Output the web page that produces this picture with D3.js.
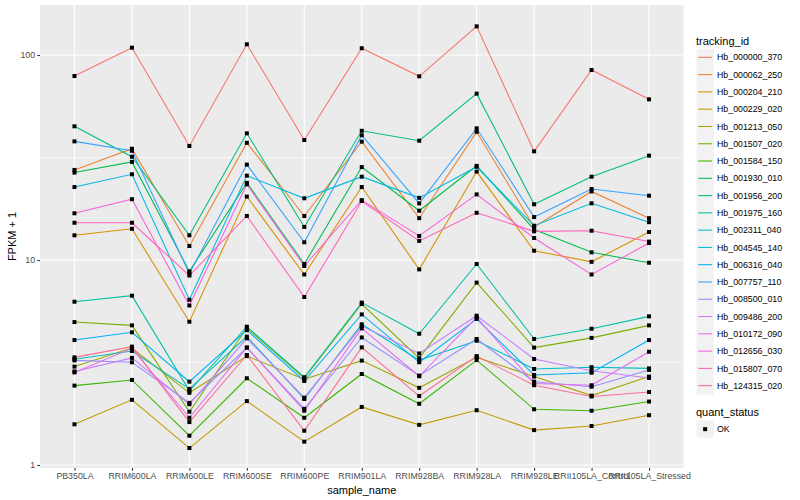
<!DOCTYPE html>
<html><head><meta charset="utf-8">
<script src="https://cdn.jsdelivr.net/npm/d3@7"></script>
<style>body{margin:0;background:#fff}svg{display:block;font-family:"Liberation Sans",Arial,sans-serif}</style>
</head><body><svg id="c" width="800" height="500"></svg>
<script>
const samples = ["PB350LA","RRIM600LA","RRIM600LE","RRIM600SE","RRIM600PE","RRIM901LA","RRIM928BA","RRIM928LA","RRIM928LE","RRII105LA_Control","RRII105LA_Stressed"];
const trackingIds = ["Hb_000000_370","Hb_000062_250","Hb_000204_210","Hb_000229_020","Hb_001213_050","Hb_001507_020","Hb_001584_150","Hb_001930_010","Hb_001956_200","Hb_001975_160","Hb_002311_040","Hb_004545_140","Hb_006316_040","Hb_007757_110","Hb_008500_010","Hb_009486_200","Hb_010172_090","Hb_012656_030","Hb_015807_070","Hb_124315_020"];
const yTicks = [1, 10, 100];

// FPKM + 1 per sample, one array per tracking_id
const hb_000000_370 = [79, 108.6, 36, 112.8, 38.5, 107.9, 78.7, 138, 33.9, 84.5, 60.8];
const hb_000062_250 = [27.5, 34.9, 11.7, 37.3, 16.4, 37.8, 16.0, 42.2, 14.5, 21.6, 16.0];
const hb_000204_210 = [13.2, 14.2, 5.0, 20.4, 8.5, 22.7, 9.0, 27.0, 11.1, 9.8, 13.7];
const hb_000229_020 = [1.58, 2.08, 1.21, 2.05, 1.30, 1.92, 1.57, 1.85, 1.48, 1.55, 1.75];
const hb_001213_050 = [3.02, 3.72, 2.25, 3.40, 2.62, 3.23, 2.38, 3.35, 2.70, 2.18, 2.70];
const hb_001507_020 = [4.98, 4.8, 1.82, 4.66, 2.65, 6.1, 3.32, 7.76, 3.74, 4.17, 4.80];
const hb_001584_150 = [2.44, 2.60, 1.39, 2.65, 1.70, 2.78, 1.99, 3.25, 1.87, 1.84, 2.04];
const hb_001930_010 = [26.7, 30.1, 8.8, 23.8, 9.56, 28.4, 17.4, 28.8, 14.1, 10.9, 9.7];
const hb_001956_200 = [44.9, 31.9, 13.2, 41.5, 14.5, 42.7, 38.2, 64.8, 18.7, 25.5, 32.3];
const hb_001975_160 = [6.26, 6.7, 2.30, 4.73, 2.68, 6.2, 4.37, 9.56, 4.12, 4.62, 5.31];
const hb_002311_040 = [3.28, 3.6, 2.35, 4.23, 2.10, 4.86, 3.25, 4.04, 2.94, 3.0, 2.96];
const hb_004545_140 = [22.7, 26.2, 6.4, 25.8, 20.0, 25.5, 20.1, 28.5, 14.7, 18.9, 15.3];
const hb_006316_040 = [4.07, 4.44, 2.55, 4.55, 2.57, 5.43, 3.17, 5.16, 2.75, 2.82, 4.07];
const hb_007757_110 = [37.9, 34.1, 8.6, 29.2, 12.2, 40.6, 18.9, 43.9, 16.2, 22.2, 20.6];
const hb_008500_010 = [3.24, 3.17, 2.01, 3.74, 1.88, 4.19, 2.73, 4.12, 2.55, 2.41, 2.91];
const hb_009486_200 = [2.86, 3.33, 1.98, 4.15, 2.13, 4.76, 3.50, 5.35, 3.29, 2.88, 2.66];
const hb_010172_090 = [2.83, 3.71, 1.70, 3.74, 1.84, 4.64, 2.71, 5.25, 2.50, 2.45, 3.57];
const hb_012656_030 = [16.9, 19.8, 6.0, 23.4, 9.35, 19.6, 13.1, 20.9, 12.8, 8.5, 12.1];
const hb_015807_070 = [15.2, 15.2, 8.4, 16.4, 6.6, 19.4, 12.4, 17.0, 13.8, 13.9, 12.3];
const hb_124315_020 = [3.35, 3.78, 1.62, 3.44, 1.47, 3.75, 2.17, 3.40, 2.45, 2.16, 2.27];

const seriesValues = [hb_000000_370,hb_000062_250,hb_000204_210,hb_000229_020,hb_001213_050,hb_001507_020,hb_001584_150,hb_001930_010,hb_001956_200,hb_001975_160,hb_002311_040,hb_004545_140,hb_006316_040,hb_007757_110,hb_008500_010,hb_009486_200,hb_010172_090,hb_012656_030,hb_015807_070,hb_124315_020];

const palette = ["#F8766D","#EA8331","#D89000","#C09B00","#A3A500","#7CAE00","#39B600","#00BB4E","#00BF7D","#00C1A3","#00BFC4","#00BAE0","#00B0F6","#35A2FF","#9590FF","#C77CFF","#E76BF3","#FA62DB","#FF62BC","#FF6C91"];

const series = trackingIds.map((id,i)=>({id, values: seriesValues[i].map((v,j)=>({s:samples[j], v}))}));

const svg = d3.select("#c");
const P = {l:40, r:683.5, t:5, b:468};
const x = d3.scalePoint().domain(samples).range([P.l, P.r]).padding(0.6);
const y = d3.scaleLog().domain([0.967, 175.4]).range([P.b, P.t]);
const color = d3.scaleOrdinal().domain(trackingIds).range(palette);

svg.append("rect").attr("x",P.l).attr("y",P.t).attr("width",P.r-P.l).attr("height",P.b-P.t).attr("fill","#EBEBEB");
// minor grid
const minor = [Math.sqrt(10), Math.sqrt(1000)];
svg.append("g").selectAll("line").data(minor).join("line")
  .attr("x1",P.l).attr("x2",P.r).attr("y1",d=>y(d)).attr("y2",d=>y(d))
  .attr("stroke","#fff").attr("stroke-width",0.55);
svg.append("g").selectAll("line").data(yTicks).join("line")
  .attr("x1",P.l).attr("x2",P.r).attr("y1",d=>y(d)).attr("y2",d=>y(d))
  .attr("stroke","#fff").attr("stroke-width",1.1);
svg.append("g").selectAll("line").data(samples).join("line")
  .attr("x1",d=>x(d)).attr("x2",d=>x(d)).attr("y1",P.t).attr("y2",P.b)
  .attr("stroke","#fff").attr("stroke-width",1.1);

// axes
const yAxis = d3.axisLeft(y).tickValues(yTicks).tickFormat(d3.format("d")).tickSize(2.7).tickPadding(2.2);
const gy = svg.append("g").attr("transform",`translate(${P.l},0)`).call(yAxis);
const xAxis = d3.axisBottom(x).tickSize(2.7).tickPadding(2.2);
const gx = svg.append("g").attr("transform",`translate(0,${P.b})`).call(xAxis);
[gx,gy].forEach(g=>{
  g.select(".domain").remove();
  g.selectAll(".tick line").attr("stroke","#333").attr("stroke-width",1.07);
  g.selectAll(".tick text").attr("fill","#4D4D4D").style("font-size","8.8px").style("font-family","'Liberation Sans',Arial,sans-serif");
});

// lines
const line = d3.line().x(d=>x(d.s)).y(d=>y(d.v));
svg.append("g").selectAll("path").data(series).join("path")
  .attr("d",d=>line(d.values)).attr("fill","none")
  .attr("stroke",d=>color(d.id)).attr("stroke-width",1.07);
// points
const pts = series.flatMap(s=>s.values);
svg.append("g").selectAll("rect").data(pts).join("rect")
  .attr("x",d=>x(d.s)-2).attr("y",d=>y(d.v)-2).attr("width",4).attr("height",4).attr("fill","#000");

// axis titles
svg.append("text").attr("x",(P.l+P.r)/2).attr("y",494).attr("text-anchor","middle")
  .style("font-size","11px").attr("fill","#000").text("sample_name");
svg.append("text").attr("transform",`translate(16,${(P.t+P.b)/2}) rotate(-90)`).attr("text-anchor","middle")
  .style("font-size","11px").attr("fill","#000").text("FPKM + 1");

// legend
const lg = svg.append("g");
lg.append("text").attr("x",696).attr("y",44.5).style("font-size","11px").text("tracking_id");
const step = 17.28, k0 = 48.7;
const items = lg.selectAll("g.it").data(trackingIds).join("g").attr("class","it")
  .attr("transform",(d,i)=>`translate(696.5,${k0+i*step})`);
items.append("rect").attr("width",17.28).attr("height",17.28).attr("fill","#F2F2F2");
items.append("line").attr("x1",1.7).attr("x2",15.6).attr("y1",8.64).attr("y2",8.64)
  .attr("stroke",d=>color(d)).attr("stroke-width",1.07);
items.append("text").attr("x",20.5).attr("y",11.8).style("font-size","8.8px").attr("fill","#000").text(d=>d);

lg.append("text").attr("x",696).attr("y",416).style("font-size","11px").text("quant_status");
const ok = lg.append("g").attr("transform",`translate(696.5,420.5)`);
ok.append("rect").attr("width",17.28).attr("height",17.28).attr("fill","#F2F2F2");
ok.append("rect").attr("x",6.64).attr("y",6.64).attr("width",4).attr("height",4).attr("fill","#000");
ok.append("text").attr("x",20.5).attr("y",11.8).style("font-size","8.8px").text("OK");
</script></body></html>
